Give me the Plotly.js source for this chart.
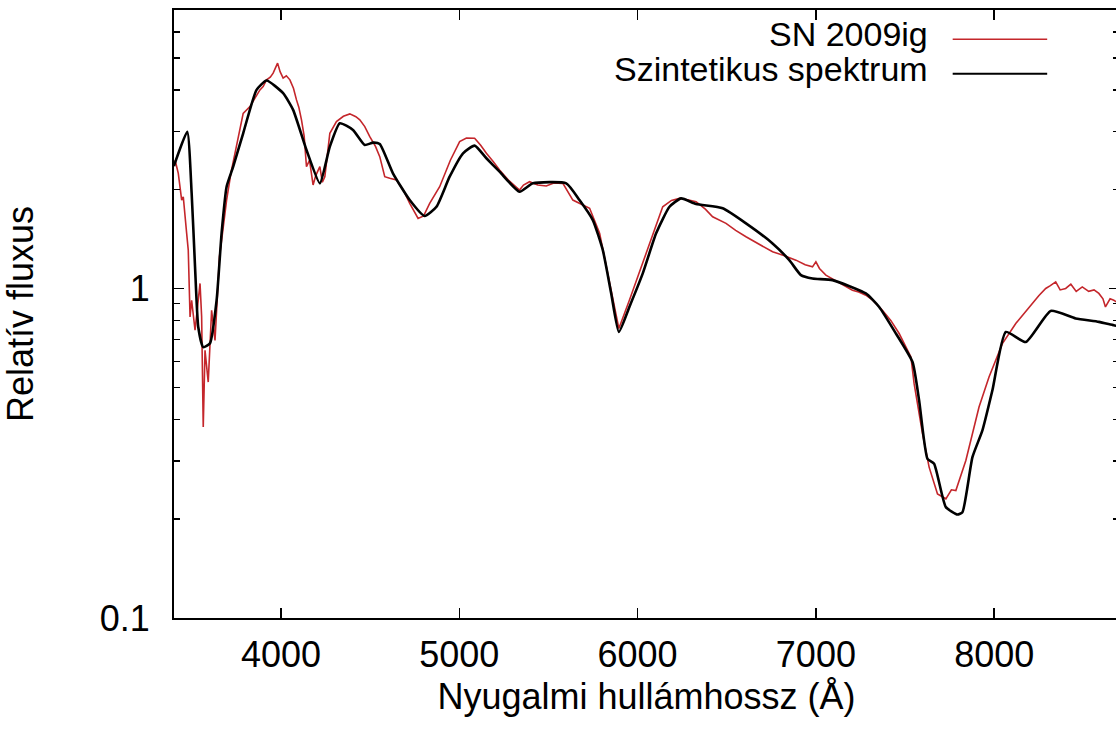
<!DOCTYPE html>
<html>
<head>
<meta charset="utf-8">
<script src="https://cdn.plot.ly/plotly-3.0.1.min.js"></script>
<style>
html,body{margin:0;padding:0;overflow:hidden;background:#fff;}
#chart{width:1130px;height:734px;}
</style>
</head>
<body>
<div id="chart"></div>
<script>
// Observed spectrum (SN 2009ig)
const obsName = "SN 2009ig";
const obsWave = [3406,3424,3443,3452,3471,3480,3490,3499,3518,3546,3555,3564,3574,3583,3592,3611,3630,3639,3648,3655,3667,3695,3720,3751,3770,3788,3826,3850,3882,3900,3919,3940,3956,3981,3995,4012,4030,4050,4070,4087,4100,4115,4130,4143,4160,4180,4195,4218,4232,4246,4260,4274,4311,4350,4386,4420,4442,4470,4498,4530,4554,4582,4610,4648,4690,4722,4769,4800,4834,4860,4890,4950,5002,5040,5086,5120,5152,5190,5226,5280,5338,5360,5394,5440,5488,5530,5581,5637,5690,5731,5787,5843,5895,5954,6000,6048,6100,6141,6190,6235,6280,6328,6380,6421,6496,6550,6608,6680,6757,6820,6888,6940,6981,7000,7020,7056,7130,7205,7240,7280,7320,7373,7420,7467,7533,7551,7598,7635,7682,7729,7760,7785,7841,7915,7971,8046,8121,8170,8214,8250,8289,8315,8345,8370,8401,8430,8460,8494,8530,8560,8587,8610,8624,8650,8671,8700];
const obsFlux = [2.455,2.236,1.855,1.898,1.470,1.307,0.820,0.921,0.747,1.036,0.820,0.380,0.649,0.592,0.520,0.859,0.696,0.859,1.036,1.25,1.40,1.855,2.25,2.694,3.05,3.40,3.565,3.75,4.006,4.10,4.297,4.38,4.503,4.83,4.55,4.348,4.42,4.297,4.05,3.735,3.55,3.248,2.90,2.342,2.45,2.061,2.20,2.342,2.10,2.184,2.60,2.958,3.209,3.33,3.387,3.32,3.248,3.10,2.889,2.70,2.512,2.184,2.16,2.134,1.97,1.813,1.632,1.66,1.813,1.92,2.036,2.45,2.790,2.86,2.857,2.72,2.572,2.43,2.289,2.12,1.990,2.06,2.109,2.06,2.046,2.09,2.085,1.855,1.80,1.751,1.470,1.036,0.756,0.921,1.08,1.278,1.55,1.770,1.85,1.877,1.86,1.834,1.74,1.651,1.576,1.50,1.435,1.36,1.292,1.26,1.219,1.18,1.163,1.205,1.15,1.098,1.04,0.988,0.975,0.954,0.92,0.859,0.80,0.730,0.620,0.514,0.3625,0.287,0.238,0.230,0.245,0.2437,0.3007,0.4366,0.539,0.680,0.783,0.84,0.900,0.95,1.0,1.02,1.047,0.99,1.0,1.03,0.98,1.011,0.98,0.99,0.966,0.93,0.879,0.93,0.921,0.90];

// Synthetic spectrum
const synName = "Szintetikus spektrum";
const synWave = [3400,3405,3474,3499,3518,3536,3564,3602,3639,3667,3695,3732,3788,3863,3919,4012,4068,4143,4218,4274,4330,4404,4470,4516,4554,4628,4722,4806,4872,4946,5021,5086,5152,5226,5338,5413,5600,5674,5749,5805,5852,5895,5954,6029,6104,6179,6244,6328,6477,6608,6757,6851,6916,6981,7093,7280,7355,7449,7542,7579,7626,7663,7729,7794,7822,7878,7934,7990,8065,8177,8317,8457,8587,8671,8700];
const synFlux = [2.35,2.40,2.99,1.945,1.163,0.764,0.664,0.682,0.921,1.473,2.036,2.342,2.958,4.006,4.276,3.914,3.483,2.633,2.085,2.694,3.173,3.028,2.726,2.771,2.746,2.236,1.855,1.659,1.770,2.184,2.572,2.713,2.484,2.262,1.966,2.085,2.085,1.855,1.613,1.307,0.966,0.738,0.879,1.111,1.470,1.770,1.877,1.804,1.751,1.576,1.370,1.219,1.098,1.072,1.060,0.966,0.879,0.730,0.598,0.4575,0.304,0.294,0.217,0.206,0.2094,0.3077,0.371,0.491,0.738,0.688,0.855,0.811,0.792,0.773,0.768];

const xTickVals = [4000,5000,6000,7000,8000];
const yTickVals = [0.1,1];
const yTickText = ["0.1","1"];
const yMinorVals = [0.2,0.3,0.4,0.5,0.6,0.7,0.8,0.9,2,3,4,5,6,7];

const FONT = "'Liberation Sans', Arial, Helvetica, sans-serif";
const RED = "#c4262b";

const traces = [
  {x: obsWave, y: obsFlux, name: obsName, type: "scatter", mode: "lines",
   line: {color: RED, width: 1.6}, showlegend: false},
  {x: synWave, y: synFlux, name: synName, type: "scatter", mode: "lines",
   line: {color: "#000", width: 2.6, shape: "spline", smoothing: 0.5}, showlegend: false}
];

const layout = {
  width: 1130, height: 734,
  margin: {l: 174, r: 11, t: 10, b: 116},
  paper_bgcolor: "#fff", plot_bgcolor: "#fff",
  font: {family: FONT, size: 36, color: "#000"},
  xaxis: {
    range: [3400, 8700], tickmode: "array", tickvals: xTickVals,
    ticks: "inside", ticklen: 10, tickwidth: 1.5, tickcolor: "#000",
    showline: true, linecolor: "#000", linewidth: 2, mirror: "ticks",
    showgrid: false, zeroline: false,
    tickfont: {size: 36}, ticklabelstandoff: 4,
    title: {text: "Nyugalmi hullámhossz (Å)", font: {size: 36}, standoff: 10}
  },
  yaxis: {
    type: "log", range: [-1, Math.log10(7)],
    tickmode: "array", tickvals: yTickVals, ticktext: yTickText,
    ticks: "inside", ticklen: 10, tickwidth: 1.5, tickcolor: "#000",
    minor: {tickmode: "array", tickvals: yMinorVals, ticks: "inside", ticklen: 6, tickwidth: 1.5, tickcolor: "#000", showgrid: false},
    showline: true, linecolor: "#000", linewidth: 2, mirror: "ticks",
    showgrid: false, zeroline: false,
    tickfont: {size: 36}, ticklabelstandoff: 15,
    title: {text: "Relatív fluxus", font: {size: 36}, standoff: 56}
  },
  showlegend: false,
  annotations: [
    {xref: "paper", yref: "paper", x: 0.800, y: 0.960, xanchor: "right", yanchor: "middle",
     text: obsName, showarrow: false, font: {size: 34}},
    {xref: "paper", yref: "paper", x: 0.800, y: 0.903, xanchor: "right", yanchor: "middle",
     text: synName, showarrow: false, font: {size: 34}}
  ],
  shapes: [
    {type: "line", xref: "paper", yref: "paper", x0: 0.824, x1: 0.924, y0: 0.952, y1: 0.952,
     line: {color: RED, width: 1.6}},
    {type: "line", xref: "paper", yref: "paper", x0: 0.824, x1: 0.924, y0: 0.895, y1: 0.895,
     line: {color: "#000", width: 2}}
  ]
};

Plotly.newPlot("chart", traces, layout, {displayModeBar: false, staticPlot: true});
</script>
</body>
</html>
